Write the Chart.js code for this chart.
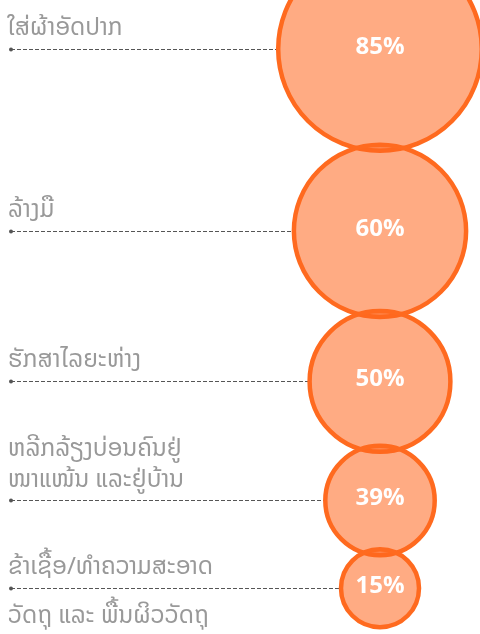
<!DOCTYPE html>
<html>
<head>
<meta charset="utf-8">
<script src="https://cdn.jsdelivr.net/npm/chart.js@4.4.1/dist/chart.umd.min.js"></script>
<style>
  html, body { margin: 0; padding: 0; background: #ffffff; }
  #wrap { width: 480px; height: 634px; }
</style>
</head>
<body>
<div id="wrap"><canvas id="c" width="480" height="634"></canvas></div>
<script>
// ---- data ----
const categories = [
  ['ໃສ່ຜ້າອັດປາກ'],
  ['ລ້າງມື'],
  ['ຮັກສາໄລຍະຫ່າງ'],
  ['ຫລີກລ້ຽງບ່ອນຄົນຢູ່', 'ໜາແໜ້ນ ແລະຢູ່ບ້ານ'],
  ['ຂ້າເຊື້ອ/ທຳຄວາມສະອາດ', 'ວັດຖຸ ແລະ ພື້ນຜິວວັດຖຸ']
];
const values = [85, 60, 50, 39, 15];
const valueLabels = values.map(v => v + '%');

// ---- layout / style (not data) ----
const R_MIN = 39, R_STEP = 15.7;     // bubble radius grows by rank
const STACK_TOP = 49;                // centre of first bubble
const OVERLAP = 6;                   // neighbouring bubbles overlap slightly
const LINES_ABOVE = [1, 1, 1, 2, 1]; // how many label lines sit above the leader line
const FONT_LAO = '"Noto Sans Lao", "Phetsarath OT", "DejaVu Sans", "Noto Sans", sans-serif';

const radii = values.map(v => R_MIN + R_STEP * values.filter(w => w < v).length);
const ys = [];
radii.forEach((r, i) => {
  ys.push(i === 0 ? STACK_TOP : ys[i - 1] + radii[i - 1] + r - OVERLAP);
});

const labelPlugin = {
  id: 'leaders',
  beforeDatasetsDraw(chart) {
    const ctx = chart.ctx;
    const meta = chart.getDatasetMeta(0);
    ctx.save();
    meta.data.forEach((pt, i) => {
      const y = Math.round(pt.y) + 0.5;
      const xEnd = pt.x - pt.options.radius;
      ctx.strokeStyle = '#555555';
      ctx.lineWidth = 1;
      ctx.setLineDash([4, 2]);
      ctx.beginPath();
      ctx.moveTo(11, y);
      ctx.lineTo(xEnd, y);
      ctx.stroke();
      ctx.setLineDash([]);
      ctx.fillStyle = '#555555';
      ctx.beginPath();
      ctx.arc(11, y, 2, 0, Math.PI * 2);
      ctx.fill();
    });
    ctx.restore();
  },
  afterDatasetsDraw(chart) {
    const ctx = chart.ctx;
    const meta = chart.getDatasetMeta(0);
    ctx.save();
    meta.data.forEach((pt, i) => {
      const y = pt.y;
      // category label
      ctx.fillStyle = '#999999';
      ctx.font = '24px ' + FONT_LAO;
      ctx.textAlign = 'left';
      ctx.textBaseline = 'alphabetic';
      const lines = categories[i];
      const above = LINES_ABOVE[i];
      lines.forEach((t, k) => {
        let by;
        if (k < above) by = y - 14 - 31 * (above - 1 - k);
        else by = y + 35 + 31 * (k - above);
        ctx.fillText(t, 8, by);
      });
      // value label
      ctx.fillStyle = '#ffffff';
      ctx.font = 'bold 24px "Open Sans", sans-serif';
      ctx.textAlign = 'center';
      ctx.textBaseline = 'middle';
      ctx.fillText(valueLabels[i], pt.x, y - 2);
    });
    ctx.restore();
  }
};

new Chart(document.getElementById('c'), {
  type: 'bubble',
  data: {
    datasets: [{
      data: values.map((v, i) => ({ x: 0, y: ys[i], r: radii[i] })),
      backgroundColor: 'rgba(255, 102, 30, 0.55)',
      borderColor: '#ff6a1f',
      borderWidth: 4.5,
      hoverBorderWidth: 4.5,
      clip: false
    }]
  },
  options: {
    responsive: false,
    animation: false,
    devicePixelRatio: 1,
    layout: { autoPadding: false, padding: { left: 280, right: 0, top: 0, bottom: 0 } },
    scales: {
      x: { type: 'linear', min: -1, max: 1, display: false },
      y: { type: 'linear', min: 0, max: 634, reverse: true, display: false }
    },
    plugins: { legend: { display: false }, tooltip: { enabled: false } },
    events: []
  },
  plugins: [labelPlugin]
});
</script>
</body>
</html>
